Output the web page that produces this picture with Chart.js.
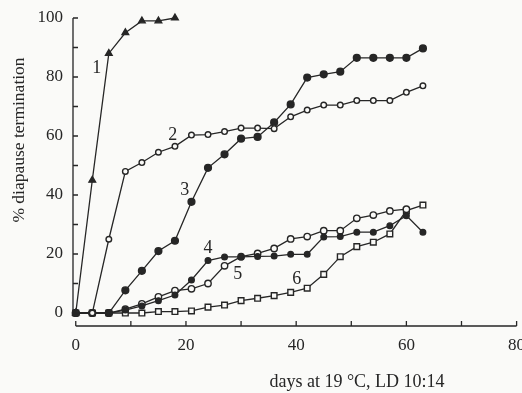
<!DOCTYPE html>
<html>
<head>
<meta charset="utf-8">
<script src="https://cdn.jsdelivr.net/npm/chart.js@4.4.1/dist/chart.umd.min.js"></script>
<style>
  html, body { margin: 0; padding: 0; background: #fafaf8; }
</style>
</head>
<body>
<canvas id="chart" width="522" height="393"></canvas>
<script>
// sampling days (every 3 days)
const days = [0, 3, 6, 9, 12, 15, 18, 21, 24, 27, 30, 33, 36, 39, 42, 45, 48, 51, 54, 57, 60, 63];

// % diapause termination per treatment
const series1 = [0, 45, 88, 95, 99, 99, 100];
const series2 = [0, 0, 25, 48, 51, 54.5, 56.5, 60.3, 60.5, 61.5, 62.7, 62.7, 62.5, 66.5, 68.8, 70.5, 70.5, 72, 72, 72, 74.8, 77];
const series3 = [0, 0, 0, 7.7, 14.3, 21, 24.5, 37.7, 49.2, 53.8, 59.1, 59.7, 64.6, 70.7, 79.8, 80.9, 81.8, 86.5, 86.5, 86.5, 86.5, 89.7];
const series4 = [0, 0, 0, 1, 2.4, 4.2, 6.1, 11.2, 17.8, 19, 19, 19.2, 19.3, 19.9, 19.9, 25.8, 25.9, 27.4, 27.4, 29.6, 33, 27.4];
const series5 = [0, 0, 0, 1.3, 3.1, 5.5, 7.6, 8.2, 10, 16, 19.1, 20.2, 21.9, 25.1, 25.9, 27.9, 27.9, 32.1, 33.2, 34.6, 35.2];
const series6 = [0, 0, 0, 0, 0, 0.5, 0.5, 0.7, 2, 2.7, 4.2, 5, 5.9, 7, 8.4, 13.1, 19.1, 22.5, 24, 26.8, 34.7, 36.6];

// curve numbers, placed in data units
const curveNames = ["1", "2", "3", "4", "5", "6"];
const curveNameDays = [3.8, 17.6, 19.8, 24, 29.4, 40.1];
const curveNameValues = [83, 60.3, 41.7, 22, 13.2, 11.5];

const xTicks = [0, 20, 40, 60, 80];
const yTicks = [0, 20, 40, 60, 80, 100];

const ink = "#262626";
const serif = "'Liberation Serif', 'DejaVu Serif', serif";

function pts(values) {
    return values.map((v, i) => ({ x: days[i], y: v }));
}

function line(values, style, radius, filled) {
    return {
        data: pts(values),
        borderColor: ink,
        borderWidth: 1.3,
        pointStyle: style,
        pointRadius: radius,
        pointBorderWidth: 1.4,
        pointBorderColor: ink,
        pointBackgroundColor: filled ? ink : "#fafaf8",
        tension: 0,
        clip: false,
    };
}

const axesPlugin = {
    id: "axesPlugin",
    afterDraw(chart) {
        const { ctx, chartArea, scales } = chart;
        const x = scales.x, y = scales.y;
        ctx.save();
        ctx.strokeStyle = ink;
        ctx.lineWidth = 1.3;

        // y axis with inward ticks
        const left = chartArea.left;
        ctx.beginPath();
        ctx.moveTo(left, y.getPixelForValue(-1));
        ctx.lineTo(left, y.getPixelForValue(100));
        for (let v = 0; v <= 100; v += 10) {
            const py = y.getPixelForValue(v);
            ctx.moveTo(left, py);
            ctx.lineTo(left + 5, py);
        }
        ctx.stroke();

        // x axis with inward ticks
        const bottom = chartArea.bottom;
        ctx.beginPath();
        ctx.moveTo(x.getPixelForValue(0), bottom);
        ctx.lineTo(x.getPixelForValue(80), bottom);
        for (let v = 0; v <= 80; v += 10) {
            const px = x.getPixelForValue(v);
            ctx.moveTo(px, bottom);
            ctx.lineTo(px, bottom - 5);
        }
        ctx.stroke();

        // curve numbers
        ctx.fillStyle = ink;
        ctx.font = "18px " + serif;
        ctx.textAlign = "center";
        ctx.textBaseline = "middle";
        curveNames.forEach((t, i) => {
            ctx.fillText(t, x.getPixelForValue(curveNameDays[i]), y.getPixelForValue(curveNameValues[i]));
        });

        // axis titles
        ctx.font = "18px " + serif;
        ctx.fillText("days at 19 °C, LD 10:14", 357, 382);
        ctx.font = "17.5px " + serif;
        ctx.translate(19, 140);
        ctx.rotate(-Math.PI / 2);
        ctx.fillText("% diapause termination", 0, 0);
        ctx.restore();
    },
};

new Chart(document.getElementById("chart").getContext("2d"), {
    type: "line",
    data: {
        datasets: [
            line(series1, "triangle", 3.8, true),
            line(series2, "circle", 2.8, false),
            line(series3, "circle", 3.4, true),
            line(series4, "circle", 2.8, true),
            line(series5, "circle", 3.2, false),
            line(series6, "rect", 4, false),
        ],
    },
    options: {
        responsive: false,
        animation: false,
        layout: { padding: { top: 18, right: 5, left: 0, bottom: 0 } },
        plugins: { legend: { display: false }, tooltip: { enabled: false } },
        scales: {
            x: {
                type: "linear",
                min: -0.5,
                max: 80,
                grid: { display: false },
                border: { display: false },
                afterBuildTicks: (s) => { s.ticks = xTicks.map((v) => ({ value: v })); },
                afterFit: (s) => { s.height = 67; s.paddingRight = 0; s.paddingLeft = 0; },
                ticks: { color: ink, font: { family: serif, size: 17 }, padding: 1, maxRotation: 0 },
            },
            y: {
                min: -4.4,
                max: 100,
                grid: { display: false },
                border: { display: false },
                afterBuildTicks: (s) => { s.ticks = yTicks.map((v) => ({ value: v })); },
                afterFit: (s) => { s.width = 73; },
                ticks: { color: ink, font: { family: serif, size: 17 }, padding: 2 },
            },
        },
    },
    plugins: [axesPlugin],
});
</script>
</body>
</html>
